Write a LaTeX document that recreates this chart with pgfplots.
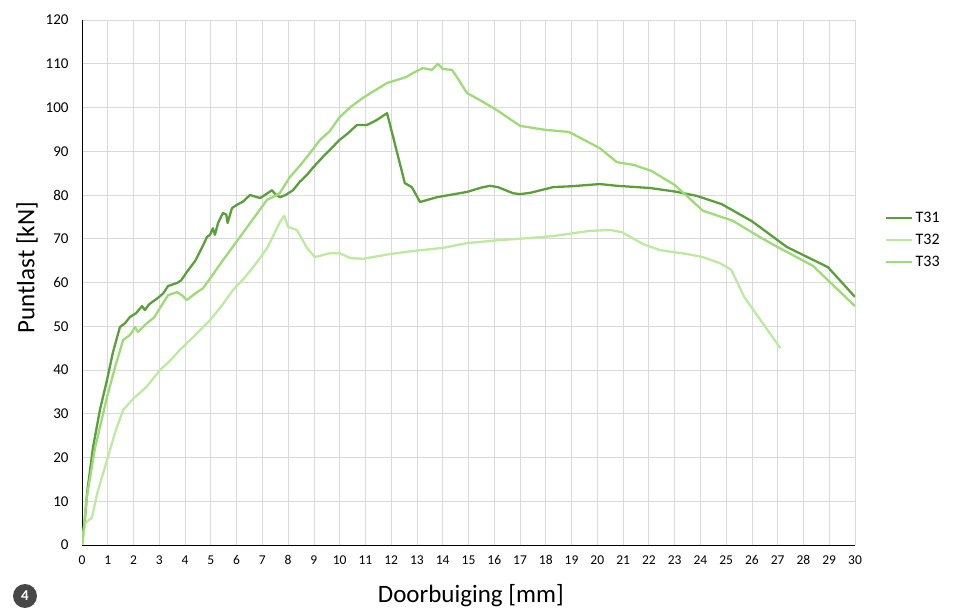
\documentclass[border=0pt]{standalone}
\usepackage{fontspec}
\setmainfont{Carlito}
\usepackage{pgfplots}
\pgfplotsset{compat=1.18}
\definecolor{cA}{HTML}{5AA03A}
\definecolor{cB}{HTML}{BDEAA0}
\definecolor{cC}{HTML}{9EDB76}
\definecolor{gridc}{HTML}{D9D9D9}
\begin{document}
\begin{tikzpicture}
\path[use as bounding box] (0,0) rectangle (957bp,608bp);
\begin{axis}[
  at={(82bp,63bp)}, anchor=south west,
  scale only axis, width=773bp, height=525bp,
  xmin=0, xmax=30, ymin=0, ymax=120,
  xtick={0,1,...,30}, ytick={0,10,...,120},
  grid=major, major grid style={gridc, line width=0.8bp},
  axis x line*=bottom, axis y line*=left,
  axis line style={black, line width=1bp, -},
  major tick length=0pt,
  /pgf/number format/assume math mode=true,
  yticklabel style={font=\fontsize{15bp}{17bp}\selectfont, text=black, xshift=-10bp},
  xticklabel style={font=\fontsize{13.5bp}{16bp}\selectfont, text=black, yshift=-7bp},
  xlabel={Doorbuiging [mm]}, ylabel={Puntlast [kN]},
  label style={font=\fontsize{25bp}{28bp}\selectfont},
  xlabel style={at={(axis description cs:0.503,-0.1086)}, anchor=base},
  ylabel style={at={(axis description cs:-0.0712,0.528)}, anchor=center},
  legend style={at={(1.035,0.581)}, anchor=west, draw=none, fill=none,
    font=\fontsize{16bp}{18bp}\selectfont, row sep=6bp},
  legend cell align=left,
  legend image code/.code={\draw[#1, line width=2.4bp] (0bp,0bp) -- (26bp,0bp);},
  line join=round,
]
\addplot[cA, line width=2.3bp] coordinates {
(0,0)(0.1,5)(0.2,12)(0.43,22.4)(0.7,31)(0.97,37.7)(1.2,44)(1.47,49.8)(1.67,50.7)(1.86,52.1)(2.1,53)(2.33,54.6)(2.44,53.7)(2.6,55)(2.95,56.5)(3.15,57.5)(3.34,59.2)(3.69,59.9)(3.85,60.5)(4.07,62.4)(4.4,65)(4.7,68.5)(4.85,70.4)(4.97,70.9)(5.08,72.4)(5.16,70.9)(5.28,73.6)(5.47,75.9)(5.6,75.5)(5.65,73.6)(5.82,77)(6.0,77.7)(6.25,78.5)(6.52,80)(6.91,79.3)(7.1,80)(7.37,81.1)(7.5,80.2)(7.68,79.5)(7.9,80)(8.19,81.1)(8.45,83)(8.73,84.6)(9.0,86.5)(9.35,88.7)(10.0,92.6)(10.3,94)(10.67,96)(11.06,96)(11.4,97)(11.84,98.7)(12.53,82.7)(12.8,81.8)(13.12,78.4)(13.78,79.5)(14.94,80.7)(15.5,81.7)(15.83,82.1)(16.14,81.8)(16.73,80.4)(17.0,80.2)(17.4,80.5)(18.28,81.8)(19.0,82)(20.1,82.5)(20.76,82.1)(22.04,81.6)(23.0,80.8)(23.86,79.8)(24.83,77.9)(26,74)(27.36,68.1)(28.95,63.5)(30,56.7)
};
\addlegendentry{T31}
\addplot[cB, line width=2.3bp] coordinates {
(0,0)(0.12,5)(0.38,6.2)(0.6,12)(0.97,19.4)(1.3,26)(1.6,30.9)(2.0,33.5)(2.5,36.1)(3.03,40)(3.4,42)(3.8,44.6)(4.4,48)(4.97,51.4)(5.4,54.5)(5.86,58.3)(6.3,61)(6.8,64.7)(7.2,68)(7.68,73.8)(7.85,75.2)(8.0,72.7)(8.34,72)(8.73,67.9)(9.04,65.8)(9.62,66.7)(10.0,66.7)(10.4,65.6)(10.9,65.4)(11.95,66.5)(12.85,67.2)(14.0,67.9)(14.94,69)(16.22,69.7)(17.0,70)(18.28,70.6)(19.7,71.8)(20.5,72)(20.95,71.5)(21.77,68.8)(22.43,67.4)(23.5,66.5)(24.1,65.8)(24.76,64.4)(25.2,62.9)(25.7,56.7)(27.1,45)
};
\addlegendentry{T32}
\addplot[cC, line width=2.3bp] coordinates {
(0,0)(0.19,11)(0.5,22)(0.97,33.8)(1.3,41)(1.6,46.9)(1.86,48)(2.06,49.8)(2.17,48.7)(2.52,50.7)(2.8,52)(3.03,54.2)(3.34,57.1)(3.69,57.8)(3.9,57)(4.07,56)(4.4,57.5)(4.7,58.7)(5.1,62)(5.47,65.1)(6.13,70.4)(6.7,75)(7.18,78.9)(7.57,80)(7.68,80.5)(8.07,84.1)(8.5,87)(8.73,88.7)(9.24,92.6)(9.6,94.5)(10.0,97.8)(10.4,100)(10.9,102.2)(11.4,104)(11.84,105.6)(12.34,106.5)(12.6,107)(12.85,107.9)(13.23,109)(13.58,108.6)(13.81,110)(14.0,108.8)(14.36,108.6)(14.6,106.5)(14.94,103.3)(15.44,101.7)(16.1,99.4)(17.0,95.8)(17.97,94.9)(18.9,94.4)(20.1,90.7)(20.76,87.5)(21.4,86.9)(22.1,85.5)(23.0,82.3)(24.1,76.4)(25.26,74.1)(26.3,70.4)(27.0,68.1)(28.37,63.8)(30,54.6)
};
\addlegendentry{T33}
\end{axis}
\node[circle, fill=black!72, text=white, inner sep=0pt, minimum size=24bp,
  font=\fontsize{15bp}{17bp}\selectfont\bfseries] at (25bp,12bp) {4};
\end{tikzpicture}
\end{document}
